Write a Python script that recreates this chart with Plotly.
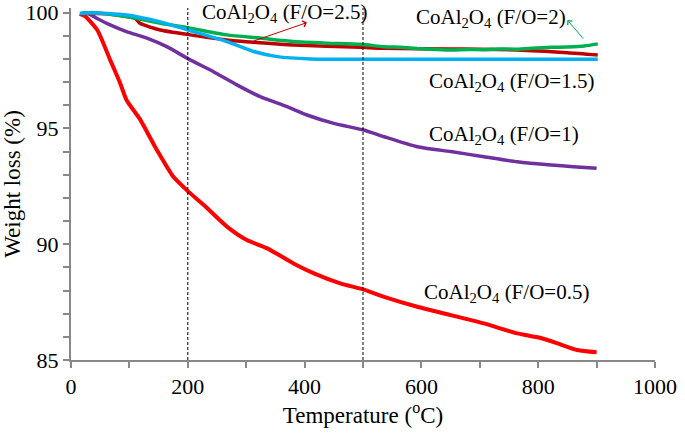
import plotly.graph_objects as go

# ---- data (temperature °C, weight %) ----
t_05 = [15, 24, 45, 67, 84, 95, 118, 147, 175, 201, 227, 267, 301, 336, 381, 416, 461, 500, 536, 593, 650, 707, 764, 799, 833, 867, 900]
w_05 = [99.95, 99.85, 99.25, 97.96, 96.96, 96.23, 95.4, 94.07, 92.92, 92.27, 91.7, 90.76, 90.18, 89.82, 89.17, 88.74, 88.31, 88.05, 87.73, 87.3, 86.94, 86.58, 86.15, 85.98, 85.72, 85.43, 85.33]

t_1 = [18, 30, 44, 67, 95, 130, 164, 204, 244, 284, 324, 370, 404, 450, 501, 536, 593, 650, 707, 764, 822, 860, 900]
w_1 = [99.95, 99.95, 99.76, 99.47, 99.18, 98.9, 98.53, 97.96, 97.45, 96.88, 96.37, 95.94, 95.58, 95.22, 94.93, 94.64, 94.21, 94.0, 93.78, 93.56, 93.42, 93.35, 93.28]

t_25 = [20, 60, 95, 110, 118, 153, 204, 267, 324, 381, 496, 536, 650, 764, 850, 902]
w_25 = [99.97, 99.95, 99.83, 99.75, 99.54, 99.25, 99.04, 98.82, 98.7, 98.6, 98.5, 98.46, 98.43, 98.39, 98.27, 98.17]

t_2 = [18, 38, 95, 153, 204, 267, 324, 381, 439, 496, 536, 565, 593, 620, 650, 680, 707, 735, 764, 795, 822, 850, 879, 902]
w_2 = [99.97, 100.0, 99.83, 99.54, 99.33, 99.04, 98.9, 98.75, 98.68, 98.63, 98.53, 98.5, 98.45, 98.42, 98.39, 98.41, 98.40, 98.43, 98.42, 98.47, 98.5, 98.52, 98.56, 98.65]

t_15 = [15, 33, 95, 153, 210, 267, 313, 353, 410, 496, 600, 700, 800, 902]
w_15 = [99.97, 100.0, 99.9, 99.6, 99.18, 98.75, 98.32, 98.1, 98.0, 97.99, 97.99, 97.99, 97.99, 97.99]

marker_temps = [200, 500]
marker_span = [85, 100.2]

labels = ["CoAl<sub>2</sub>O<sub>4</sub> (F/O=0.5)",
          "CoAl<sub>2</sub>O<sub>4</sub> (F/O=1)",
          "CoAl<sub>2</sub>O<sub>4</sub> (F/O=1.5)",
          "CoAl<sub>2</sub>O<sub>4</sub> (F/O=2)",
          "CoAl<sub>2</sub>O<sub>4</sub> (F/O=2.5)"]
label_x = [745, 741, 754, 719, 366]
label_y = [87.9, 94.72, 97.02, 99.76, 99.98]

x_ticks = [0, 200, 400, 600, 800, 1000]
y_ticks = [85, 90, 95, 100]

FONT = "Liberation Serif"

fig = go.Figure()
series = [
    (t_05, w_05, "#FF0000", 4),
    (t_1, w_1, "#7030A0", 3.5),
    (t_25, w_25, "#C00000", 3.5),
    (t_2, w_2, "#00B050", 3.5),
    (t_15, w_15, "#00B0F0", 3.5),
]
for t, w, c, lw in series:
    fig.add_trace(go.Scatter(x=t, y=w, mode="lines",
                             line=dict(color=c, width=lw, shape="spline", smoothing=0.6),
                             showlegend=False, hoverinfo="skip"))

for xv in marker_temps:
    fig.add_trace(go.Scatter(x=[xv, xv], y=marker_span, mode="lines",
                             line=dict(color="black", width=1, dash="3px,2px"),
                             showlegend=False, hoverinfo="skip"))

for txt, lx, ly in zip(labels, label_x, label_y):
    fig.add_annotation(x=lx, y=ly, text=txt, showarrow=False,
                       font=dict(family=FONT, size=21, color="black"),
                       xanchor="center", yanchor="middle")

# arrows
fig.add_annotation(x=404, y=99.57, ax=310, ay=98.75, axref="x", ayref="y",
                   text="", showarrow=True, arrowhead=4, arrowsize=1.2,
                   arrowwidth=1, arrowcolor="#C00000")
fig.add_annotation(x=850, y=99.68, ax=879, ay=98.82, axref="x", ayref="y",
                   text="", showarrow=True, arrowhead=4, arrowsize=1.2,
                   arrowwidth=1, arrowcolor="#00B050")

axis_common = dict(showgrid=False, zeroline=False, showline=True, automargin=False,
                   linecolor="#888888", linewidth=2,
                   ticks="outside", ticklen=6, tickwidth=2, tickcolor="#888888",
                   tickfont=dict(family=FONT, size=22, color="black"))

fig.update_xaxes(range=[0, 1000], tickvals=x_ticks,
                 minor=dict(dtick=100, ticks="outside", ticklen=6, tickwidth=2, tickcolor="#888888"),
                 title=dict(text="Temperature (<sup>o</sup>C)", font=dict(family=FONT, size=23, color="black"), standoff=8),
                 **axis_common)
fig.update_yaxes(range=[85, 100.2], tickvals=y_ticks,
                 minor=dict(dtick=1, ticks="outside", ticklen=6, tickwidth=2, tickcolor="#888888"),
                 title=dict(text="Weight loss (%)", font=dict(family=FONT, size=23, color="black"), standoff=6),
                 **axis_common)

fig.update_layout(width=685, height=435, margin=dict(l=71, r=30, t=8, b=75),
                  plot_bgcolor="white", paper_bgcolor="white",
                  font=dict(family=FONT, color="black"))

fig.write_html("out.html", config={"displayModeBar": False},
               post_script="document.body.style.margin='0';")
